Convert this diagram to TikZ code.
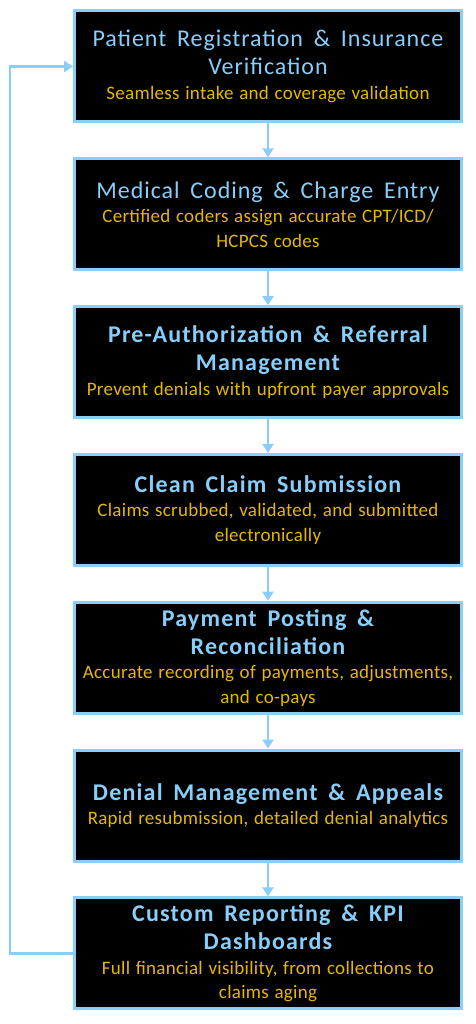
\documentclass[tikz,border=0pt]{standalone}
\usepackage{fontspec}
\setmainfont{Carlito}
\newfontfamily\titlefont{Carlito}[LetterSpace=4]
\newfontfamily\boldtitlefont{Carlito}[LetterSpace=5]
\newfontfamily\subfont{Carlito}[LetterSpace=1.5]
\usetikzlibrary{arrows.meta, positioning}
\definecolor{skyline}{RGB}{135,206,250}
\definecolor{goldtext}{RGB}{230,184,0}
\newcommand{\steptitle}[1]{{\color{skyline}\fontsize{24}{28}\titlefont\spaceskip=0.45em\relax #1\par}}
\newcommand{\stepbold}[1]{{\color{skyline}\fontsize{24}{28}\boldtitlefont\bfseries\spaceskip=0.45em\relax #1\par}}
\newcommand{\stepsub}[1]{{\color{goldtext}\fontsize{19}{24.5}\subfont\spaceskip=0.3em\relax #1\par}}

\begin{document}
\begin{tikzpicture}[
    node distance=33.8pt,
    stage/.style={rectangle, draw=skyline, line width=3pt, fill=black,
        minimum width=387pt, minimum height=111pt, text width=384pt,
        align=center, inner sep=0pt},
    flow/.style={-{Triangle[length=9pt, width=11pt]}, draw=skyline, line width=2.5pt}
]
    \useasboundingbox (0,0) rectangle (475pt,-1024pt);

    % Revenue cycle stages
    \node[stage] (s1) at (268pt,-66.5pt) {\steptitle{Patient Registration \& Insurance\\ Verification}\stepsub{Seamless intake and coverage validation}};
    \node[stage] (s2) [below=of s1] {\steptitle{Medical Coding \& Charge Entry}\stepsub{Certified coders assign accurate CPT/ICD/\\ HCPCS codes}};
    \node[stage] (s3) [below=of s2] {\stepbold{Pre-Authorization \& Referral\\ Management}\stepsub{Prevent denials with upfront payer approvals}};
    \node[stage] (s4) [below=of s3] {\stepbold{Clean Claim Submission}\stepsub{Claims scrubbed, validated, and submitted\\ electronically}};
    \node[stage] (s5) [below=of s4] {\stepbold{Payment Posting \&\\ Reconciliation}\stepsub{Accurate recording of payments, adjustments,\\ and co-pays}};
    \node[stage] (s6) [below=of s5] {\stepbold{Denial Management \& Appeals}\stepsub{Rapid resubmission, detailed denial analytics}};
    \node[stage] (s7) [below=of s6] {\stepbold{Custom Reporting \& KPI\\ Dashboards}\stepsub{Full financial visibility, from collections to\\ claims aging}};

    % Downward arrows between stages
    \foreach \i/\j in {1/2, 2/3, 3/4, 4/5, 5/6, 6/7} {
        \draw[flow] (s\i.south) -- (s\j.north);
    }

    % Feedback loop back to the first stage
    \coordinate (loopbot) at (10pt,0 |- s7.west);
    \coordinate (looptop) at (10pt,0 |- s1.west);
    \draw[flow] (s7.west) -- (loopbot) -- (looptop) -- (s1.west);

\end{tikzpicture}
\end{document}
